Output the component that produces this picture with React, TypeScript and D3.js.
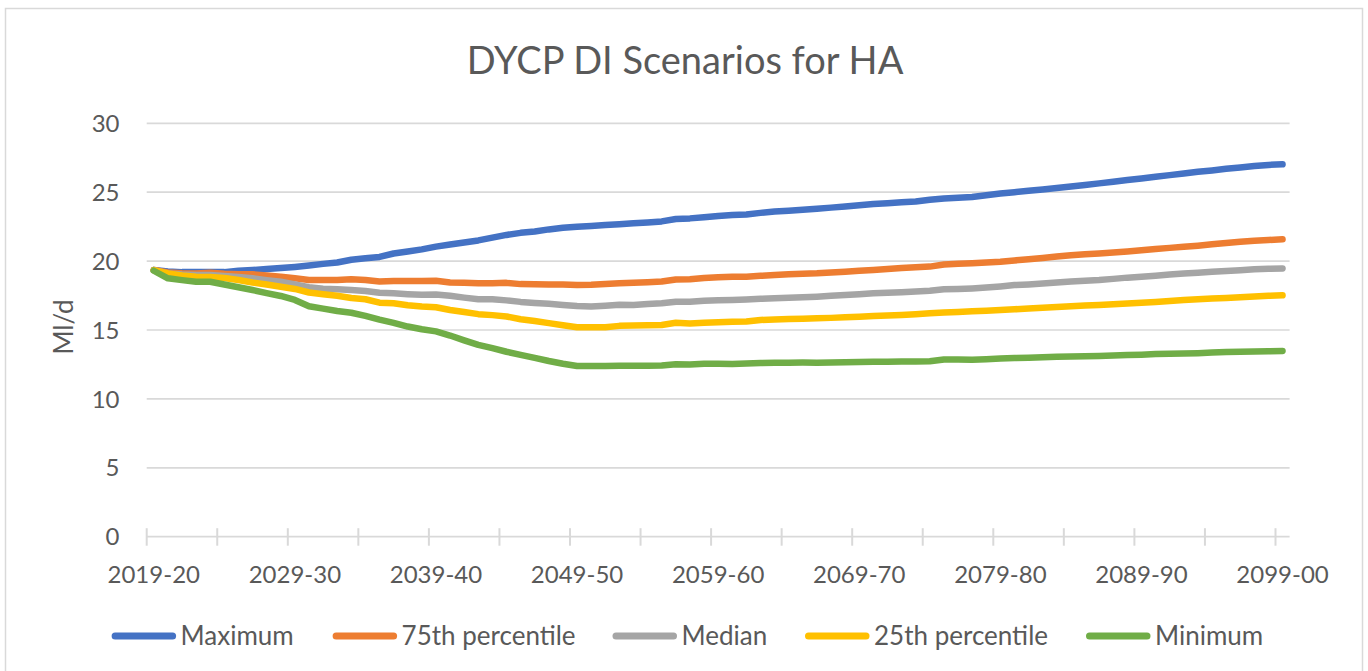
import React from "react";
import * as d3 from "d3";

const startYears: number[] = d3.range(2019, 2100);
const categories: string[] = startYears.map(
  (y) => `${y}-${String((y + 1) % 100).padStart(2, "0")}`
);

const maximum: number[] = [
  19.35, 19.25, 19.2, 19.2, 19.2, 19.2, 19.3, 19.35, 19.42, 19.5,
  19.58, 19.68, 19.8, 19.9, 20.1, 20.2, 20.3, 20.55, 20.7, 20.85,
  21.05, 21.2, 21.35, 21.5, 21.7, 21.9, 22.05, 22.15, 22.3, 22.42,
  22.5, 22.55, 22.62, 22.68, 22.74, 22.8, 22.88, 23.05, 23.1, 23.18,
  23.28, 23.35, 23.38, 23.5, 23.6, 23.65, 23.72, 23.8, 23.88, 23.96,
  24.05, 24.14, 24.2, 24.27, 24.33, 24.45, 24.55, 24.6, 24.65, 24.78,
  24.9, 25.0, 25.1, 25.2, 25.3, 25.42, 25.52, 25.64, 25.76, 25.88,
  26.0, 26.12, 26.24, 26.36, 26.48, 26.58, 26.7, 26.8, 26.9, 26.98,
  27.02,
];

const p75: number[] = [
  19.35, 19.18, 19.12, 19.1, 19.15, 19.08, 19.05, 19.04, 18.95, 18.87,
  18.75, 18.63, 18.62, 18.62, 18.68, 18.63, 18.52, 18.55, 18.55, 18.56,
  18.58, 18.45, 18.42, 18.39, 18.4, 18.42, 18.33, 18.32, 18.3, 18.3,
  18.27, 18.28, 18.33, 18.39, 18.43, 18.47, 18.52, 18.67, 18.68, 18.78,
  18.83, 18.87, 18.87, 18.93, 18.99, 19.04, 19.08, 19.11, 19.17, 19.23,
  19.3, 19.36, 19.42, 19.5, 19.56, 19.6, 19.75, 19.8, 19.84, 19.9,
  19.96, 20.05, 20.13, 20.22, 20.33, 20.42, 20.5, 20.56, 20.63, 20.7,
  20.78, 20.88, 20.96, 21.04, 21.12, 21.22, 21.32, 21.4, 21.48, 21.53,
  21.58,
];

const median: number[] = [
  19.35, 19.1, 19.02, 18.99, 18.99, 18.92, 18.85, 18.75, 18.62, 18.5,
  18.3, 18.1, 18.0, 17.95, 17.9, 17.83, 17.7, 17.66, 17.6, 17.55,
  17.57, 17.49, 17.35, 17.23, 17.23, 17.15, 17.04, 16.96, 16.9, 16.82,
  16.74, 16.7, 16.76, 16.84, 16.82, 16.88, 16.94, 17.05, 17.05, 17.12,
  17.15, 17.18, 17.22, 17.26, 17.3, 17.34, 17.38, 17.42, 17.48, 17.54,
  17.6, 17.66, 17.7, 17.74, 17.8, 17.85, 17.95, 17.98, 18.02, 18.08,
  18.16, 18.26, 18.31, 18.37, 18.45, 18.52, 18.58, 18.63, 18.71, 18.8,
  18.86, 18.94, 19.02, 19.1, 19.16, 19.22, 19.28, 19.34, 19.4, 19.44,
  19.47,
];

const p25: number[] = [
  19.35, 19.1, 18.95, 18.87, 18.85, 18.78, 18.63, 18.45, 18.3, 18.14,
  17.98, 17.72, 17.6, 17.48, 17.32, 17.23, 16.98, 16.94, 16.8, 16.7,
  16.65, 16.45, 16.3, 16.15, 16.08, 15.98, 15.78, 15.65, 15.5, 15.35,
  15.2, 15.2, 15.2, 15.3, 15.33, 15.35, 15.36, 15.52, 15.48, 15.52,
  15.56, 15.6, 15.62, 15.73, 15.76, 15.8, 15.82, 15.85, 15.88, 15.92,
  15.97, 16.02, 16.05, 16.09, 16.14, 16.21, 16.27, 16.31, 16.36, 16.4,
  16.45, 16.5, 16.56, 16.61, 16.67, 16.72, 16.77, 16.81, 16.87, 16.93,
  16.98, 17.03, 17.1, 17.17, 17.23, 17.28, 17.33, 17.38, 17.43, 17.48,
  17.52,
];

const minimum: number[] = [
  19.3, 18.75, 18.62, 18.5, 18.5, 18.3, 18.1, 17.9, 17.68, 17.47,
  17.18, 16.72, 16.55, 16.38, 16.25, 16.02, 15.75, 15.52, 15.25, 15.05,
  14.9, 14.6, 14.25, 13.92, 13.68, 13.42, 13.2, 12.98, 12.75, 12.55,
  12.39, 12.38, 12.38, 12.4, 12.41, 12.4, 12.42, 12.51, 12.5, 12.55,
  12.55, 12.54, 12.56, 12.6, 12.63, 12.63, 12.64, 12.63, 12.65, 12.66,
  12.68, 12.7, 12.7, 12.71, 12.72, 12.73, 12.86, 12.86, 12.84, 12.88,
  12.93, 12.97, 12.99, 13.02, 13.05, 13.07, 13.09, 13.11, 13.15, 13.18,
  13.21, 13.25, 13.28, 13.3, 13.32, 13.36, 13.4, 13.42, 13.44, 13.46,
  13.48,
];

const seriesNames: string[] = [
  "Maximum",
  "75th percentile",
  "Median",
  "25th percentile",
  "Minimum",
];
const seriesColors: string[] = ["#4472C4", "#ED7D31", "#A5A5A5", "#FFC000", "#70AD47"];
const seriesValues: number[][] = [maximum, p75, median, p25, minimum];

const yTicks: number[] = [0, 5, 10, 15, 20, 25, 30];
const title = "DYCP DI Scenarios for HA";
const yAxisTitle = "Ml/d";

const W = 1368;
const H = 671;
const FONT = "Lato, 'Open Sans', sans-serif";
const TEXT = "#595959";
const GRID = "#D9D9D9";

export default function App() {
  const left = 146.7;
  const right = 1289.6;
  const top = 123.3;
  const bottom = 536.7;

  const x = d3.scaleBand<string>().domain(categories).range([left, right]).paddingInner(0).paddingOuter(0);
  const bw = x.bandwidth();
  const cx = (c: string) => (x(c) as number) + bw / 2;
  const y = d3.scaleLinear().domain([0, 30]).range([bottom, top]);

  const line = d3
    .line<number>()
    .x((_, i) => cx(categories[i]))
    .y((v) => y(v));

  const tickIdx = d3.range(0, categories.length, 5);
  const labelIdx = d3.range(0, categories.length, 10);

  const legendLineStart = [111.6, 332.6, 612.5, 805, 1086];
  const legendY = 636;

  return (
    <svg
      width={W}
      height={H}
      style={{ position: "absolute", left: 0, top: 0, background: "#fff" }}
      fontFamily={FONT}
    >
      <rect x={0} y={0} width={W} height={H} fill="#fff" />
      <rect x={5.5} y={8.5} width={1357} height={680} fill="none" stroke={GRID} strokeWidth={1.5} />

      <text x={685} y={73.5} textAnchor="middle" fontSize={38} fill={TEXT}>
        {title}
      </text>

      {yTicks.map((t) => (
        <g key={t}>
          <line x1={left} x2={right} y1={y(t)} y2={y(t)} stroke={GRID} strokeWidth={1.7} />
          <text x={119.5} y={y(t)} dy="0.36em" textAnchor="end" fontSize={24} fill={TEXT}>
            {t}
          </text>
        </g>
      ))}

      {tickIdx.map((i) => (
        <line
          key={i}
          x1={x(categories[i]) as number}
          x2={x(categories[i]) as number}
          y1={bottom - 8.5}
          y2={bottom + 9}
          stroke={GRID}
          strokeWidth={2}
        />
      ))}

      {labelIdx.map((i) => (
        <text key={i} x={cx(categories[i])} y={583} textAnchor="middle" fontSize={24} fill={TEXT}>
          {categories[i]}
        </text>
      ))}

      <text
        transform={`translate(73,327) rotate(-90)`}
        textAnchor="middle"
        fontSize={26}
        fill={TEXT}
      >
        {yAxisTitle}
      </text>

      {seriesValues.map((vals, s) => (
        <path
          key={seriesNames[s]}
          d={line(vals) as string}
          fill="none"
          stroke={seriesColors[s]}
          strokeWidth={6.5}
          strokeLinejoin="round"
          strokeLinecap="round"
        />
      ))}

      {seriesNames.map((n, s) => (
        <g key={n}>
          <line
            x1={legendLineStart[s] + 3.5}
            x2={legendLineStart[s] + 61}
            y1={legendY}
            y2={legendY}
            stroke={seriesColors[s]}
            strokeWidth={7}
            strokeLinecap="round"
          />
          <text x={legendLineStart[s] + 69} y={legendY} dy="0.36em" fontSize={26} fill={TEXT}>
            {n}
          </text>
        </g>
      ))}
    </svg>
  );
}
